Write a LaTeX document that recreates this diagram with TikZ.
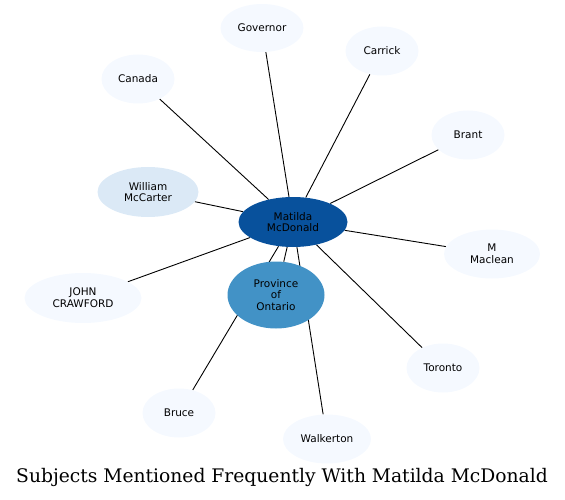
\documentclass[tikz,border=0pt]{standalone}
\usepackage{fontspec}
\setsansfont{DejaVu Sans}
\newfontfamily\titlefont{DejaVu Serif}
\usetikzlibrary{shapes.geometric,backgrounds}
\definecolor{hub}{HTML}{08519C}
\definecolor{midblue}{HTML}{4292C6}
\definecolor{paleblue}{HTML}{DBE9F6}
\definecolor{faintblue}{HTML}{F5F9FF}
\begin{document}
\begin{tikzpicture}[x=1pt,y=-1pt]
    \tikzset{subj/.style={ellipse,draw=none,fill=faintblue,inner sep=0pt,align=center,
        minimum width=73pt,minimum height=49pt,
        font={\sffamily\fontsize{10.5}{11.8}\selectfont}}}
    \useasboundingbox (0,0) rectangle (565,500);
    % centre and subjects
    \node[subj,fill=hub,minimum width=109pt,minimum height=50pt] (matilda) at (293,222) {Matilda\\McDonald};
    \node[subj,fill=midblue,minimum width=97pt,minimum height=67pt] (ontario) at (276,295) {Province\\of\\Ontario};
    \node[subj,fill=paleblue,minimum width=101pt,minimum height=50pt] (mccarter) at (148,192) {William\\McCarter};
    \node[subj,minimum width=83pt,minimum height=48pt] (governor) at (262,28) {Governor};
    \node[subj] (carrick) at (382,51) {Carrick};
    \node[subj] (canada) at (138,79) {Canada};
    \node[subj] (brant) at (468,135) {Brant};
    \node[subj,minimum width=96pt] (maclean) at (492,254) {M\\Maclean};
    \node[subj,minimum width=117pt,minimum height=50pt] (crawford) at (83,298) {JOHN\\CRAWFORD};
    \node[subj] (toronto) at (443,368) {Toronto};
    \node[subj] (bruce) at (179,413) {Bruce};
    \node[subj,minimum width=88pt] (walkerton) at (327,439) {Walkerton};
    \begin{scope}[on background layer]
    \foreach \s in {governor,carrick,canada,brant,mccarter,maclean,crawford,ontario,toronto,bruce,walkerton}
        \draw[line width=0.9pt] (matilda) -- (\s);
    \end{scope}
    \node (title) at (282,477) {\titlefont\fontsize{18.7}{22}\selectfont Subjects Mentioned Frequently With Matilda McDonald};
\end{tikzpicture}
\end{document}
